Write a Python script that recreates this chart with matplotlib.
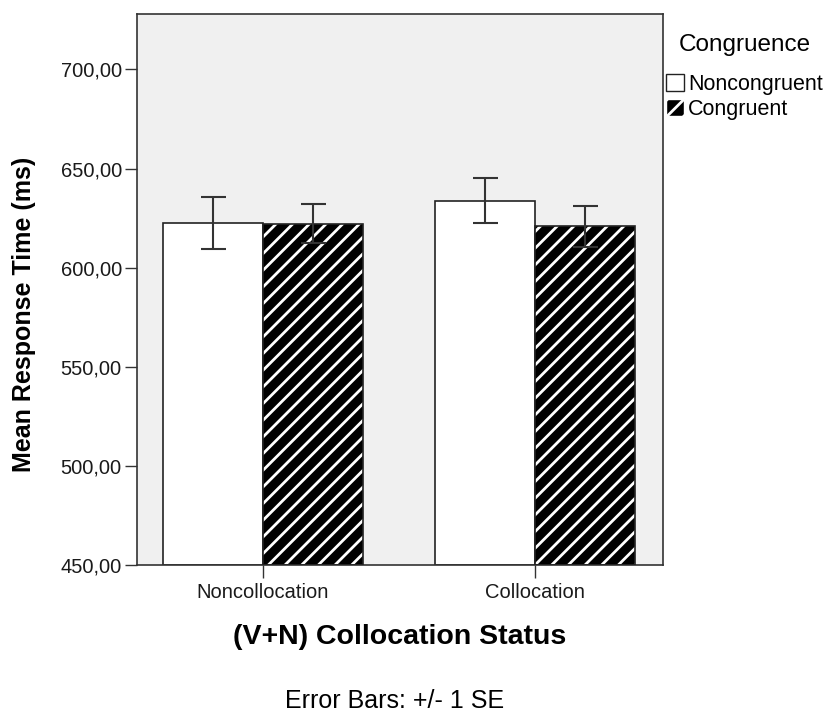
import numpy as np
import matplotlib.pyplot as plt
from matplotlib.patches import Patch

plt.rcParams['font.family'] = ['Liberation Sans', 'DejaVu Sans']
plt.rcParams['hatch.linewidth'] = 2.0

categories = ['Noncollocation', 'Collocation']
series = ['Noncongruent', 'Congruent']
means_noncong = [622.6, 633.8]
means_cong = [622.2, 620.9]
se_noncong = [13.1, 11.5]
se_cong = [10.0, 10.4]
yticks = [450, 500, 550, 600, 650, 700]

fig = plt.figure(figsize=(8.26, 7.13), dpi=100)
ax = fig.add_axes([0.1659, 0.2076, 0.6368, 0.7728])
ax.set_facecolor('#f0f0f0')

x = np.arange(len(categories))
w = 0.368
ecol = '#333333'

# noncongruent: plain white bars
ax.bar(x - w / 2, np.array(means_noncong) - 450, w, bottom=450, color='white',
       edgecolor='#222222', linewidth=1.2, zorder=2)
# congruent: black with white stripes, outline drawn separately on top
ax.bar(x + w / 2, np.array(means_cong) - 450, w, bottom=450, color='black',
       edgecolor='white', hatch='//', linewidth=0, zorder=2)
ax.bar(x + w / 2, np.array(means_cong) - 450, w, bottom=450, fill=False,
       edgecolor='#222222', linewidth=1.2, zorder=3)

ax.errorbar(x - w / 2, means_noncong, yerr=se_noncong, fmt='none', ecolor=ecol,
            elinewidth=1.5, capsize=9, capthick=1.5, zorder=4)
ax.errorbar(x + w / 2, means_cong, yerr=se_cong, fmt='none', ecolor=ecol,
            elinewidth=1.5, capsize=9, capthick=1.5, zorder=4)

ax.set_xlim(-0.463, 1.47)
ax.set_ylim(450, 728)
ax.set_yticks(yticks)
ax.set_yticklabels([f'{v},00' for v in yticks], fontsize=14.5, color='#1a1a1a')
ax.set_xticks(x)
ax.set_xticklabels(categories, fontsize=14.5, color='#1a1a1a')
ax.tick_params(axis='both', direction='out', length=9, width=1, color='#333333')
ax.tick_params(axis='y', pad=2)
ax.tick_params(axis='x', pad=4)
for s in ax.spines.values():
    s.set_color('#333333')
    s.set_linewidth(1.2)

ax.set_ylabel('Mean Response Time (ms)', fontsize=18, fontweight='bold',
              ha='center', va='center')
ax.yaxis.set_label_coords(-0.215, 0.4555)
ax.set_xlabel('(V+N) Collocation Status', fontsize=20.5, fontweight='bold', va='center')
ax.xaxis.set_label_coords(0.5, -0.13)

handles = [Patch(facecolor='white', edgecolor='#222222', label=series[0]),
           Patch(facecolor='black', edgecolor='white', hatch='//', label=series[1])]
fig.legend(handles=handles, loc='upper left', bbox_to_anchor=(0.806, 0.8962),
           frameon=False, fontsize=15.5, handlelength=0.85, handleheight=0.85,
           handletextpad=0.2, borderpad=0, borderaxespad=0, labelspacing=0.18)
fig.text(0.902, 0.937, 'Congruence', ha='center', va='center', fontsize=17.5)

fig.text(0.4776, 0.017, 'Error Bars: +/- 1 SE', ha='center', va='center', fontsize=18)

fig.savefig('out.png', dpi=100)
